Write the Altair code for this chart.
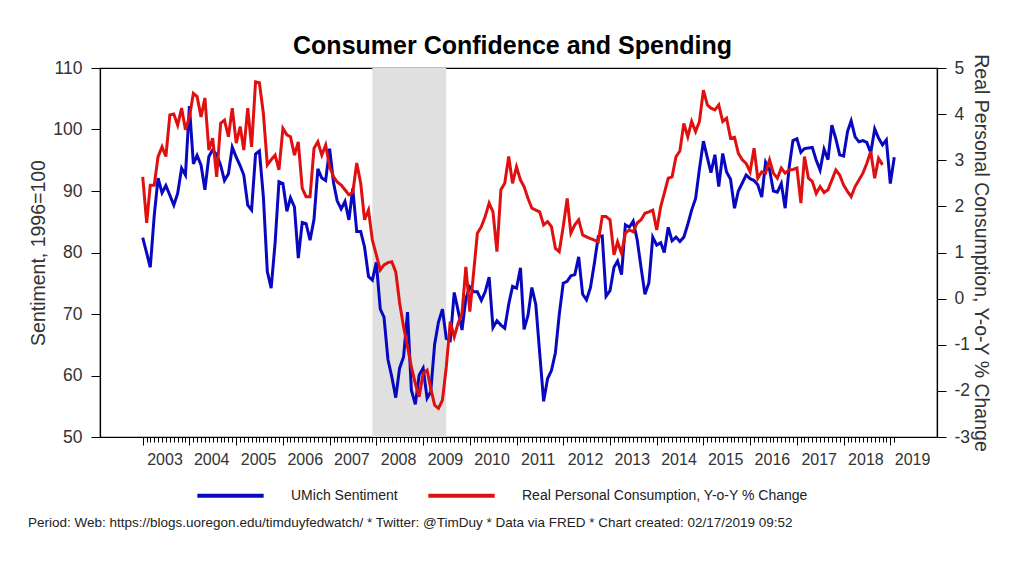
import altair as alt
import pandas as pd

# UMich consumer sentiment, monthly, Jan 2003 - Feb 2019
umich = [
    82.4, 79.9, 77.6, 86.0, 92.1, 89.7, 90.9, 89.3, 87.7, 89.6, 93.7, 92.6,
    103.8, 94.4, 95.8, 94.2, 90.2, 95.6, 96.7, 95.9, 94.2, 91.7, 92.8, 97.1,
    95.5, 94.1, 92.6, 87.7, 86.9, 96.0, 96.5, 89.1, 76.9, 74.2, 81.6, 91.5,
    91.2, 86.7, 88.9, 87.4, 79.1, 84.9, 84.7, 82.0, 85.4, 93.6, 92.1, 91.7,
    96.9, 91.3, 88.4, 87.1, 88.3, 85.3, 90.4, 83.4, 83.4, 80.9, 76.1, 75.5,
    78.4, 70.8, 69.5, 62.6, 59.8, 56.4, 61.2, 63.0, 70.3, 57.6, 55.3, 60.1,
    61.2, 56.3, 57.3, 65.1, 68.7, 70.8, 66.0, 65.7, 73.5, 70.6, 67.4, 72.5,
    74.4, 73.6, 73.6, 72.2, 73.6, 76.0, 67.8, 68.9, 68.2, 67.7, 71.6, 74.5,
    74.2, 77.5, 67.5, 69.8, 74.3, 71.5, 63.7, 55.8, 59.5, 60.8, 63.7, 69.9,
    75.0, 75.3, 76.2, 76.4, 79.3, 73.2, 72.3, 74.3, 78.3, 82.6, 82.7, 72.9,
    73.8, 77.6, 78.6, 76.4, 84.5, 84.1, 85.1, 82.1, 77.5, 73.2, 75.1, 82.5,
    81.2, 81.6, 80.0, 84.1, 81.9, 82.5, 81.8, 82.5, 84.6, 86.9, 88.8, 93.6,
    98.1, 95.4, 93.0, 95.9, 90.7, 96.1, 93.1, 91.9, 87.2, 90.0, 91.3, 92.6,
    92.0, 91.7, 91.0, 89.0, 94.7, 93.5, 90.0, 89.8, 91.2, 87.2, 93.8, 98.2,
    98.5, 96.3, 96.9, 97.0, 97.1, 95.0, 93.4, 96.8, 95.1, 100.7, 98.5, 95.9,
    95.7, 99.7, 101.4, 98.8, 98.0, 98.2, 97.9, 96.2, 100.1, 98.6, 97.5, 98.3,
    91.2, 95.5,
]

# Real personal consumption, year-over-year % change, Jan 2003 - Nov 2018
rpce = [
    2.64, 1.64, 2.46, 2.46, 3.08, 3.29, 3.08, 3.98, 4.00, 3.76, 4.13, 3.66,
    3.94, 4.45, 4.38, 3.94, 4.35, 3.22, 3.48, 2.64, 3.80, 3.87, 3.51, 4.13,
    3.37, 3.73, 3.22, 4.13, 3.29, 4.70, 4.68, 4.02, 2.90, 3.01, 3.11, 2.79,
    3.69, 3.55, 3.51, 3.11, 3.40, 2.39, 2.21, 2.21, 3.26, 3.40, 3.11, 3.33,
    2.86, 2.64, 2.53, 2.46, 2.36, 2.25, 2.30, 2.94, 2.50, 1.71, 1.92, 1.27,
    0.95, 0.62, 0.73, 0.78, 0.80, 0.58, -0.09, -0.61, -1.04, -1.48, -1.84, -2.13,
    -1.62, -1.55, -1.94, -2.31, -2.38, -2.20, -1.48, -0.50, -0.83, -0.54, -0.32, 0.69,
    -0.28, 0.60, 1.42, 1.56, 1.78, 2.07, 1.88, 1.02, 2.36, 2.50, 3.08, 2.50,
    2.86, 2.57, 2.43, 2.17, 1.96, 1.92, 1.88, 1.60, 1.67, 1.56, 1.09, 1.02,
    1.56, 2.17, 1.42, 1.60, 1.71, 1.38, 1.34, 1.30, 1.27, 1.23, 1.78, 1.78,
    1.71, 0.95, 1.23, 0.98, 1.42, 1.49, 1.45, 1.64, 1.71, 1.85, 1.88, 1.92,
    1.49, 1.99, 2.28, 2.61, 2.64, 3.08, 3.20, 3.80, 3.51, 3.84, 3.62, 3.84,
    4.52, 4.20, 4.13, 4.09, 4.20, 3.84, 3.91, 3.48, 3.50, 3.15, 3.01, 2.93,
    2.75, 3.26, 2.61, 2.75, 2.72, 3.01, 2.72, 2.61, 2.83, 2.72, 2.79, 2.80,
    2.83, 2.07, 3.08, 2.61, 2.54, 2.28, 2.43, 2.30, 2.36, 2.57, 2.79, 2.68,
    2.46, 2.32, 2.21, 2.43, 2.57, 2.72, 2.93, 3.19, 2.61, 3.04, 2.90,
]

series_names = ["UMich Sentiment", "Real Personal Consumption, Y-o-Y % Change"]
series_colors = ["#0808c0", "#e01010"]
recession_start = ["2007-12-01"]
recession_end = ["2009-06-30"]
left_ticks = [50, 60, 70, 80, 90, 100, 110]
right_ticks = [-3, -2, -1, 0, 1, 2, 3, 4, 5]
footnote = ("Period: Web: https://blogs.uoregon.edu/timduyfedwatch/ * Twitter: @TimDuy "
            "* Data via FRED * Chart created: 02/17/2019 09:52")

FONT = "Liberation Sans"


def ms(s):
    return int(pd.Timestamp(s).value // 10**6)


blue_df = pd.DataFrame({
    "date": pd.date_range("2003-01-01", periods=len(umich), freq="MS").strftime("%Y-%m-%d"),
    "value": umich,
    "series": series_names[0],
})
red_df = pd.DataFrame({
    "date": pd.date_range("2003-01-01", periods=len(rpce), freq="MS").strftime("%Y-%m-%d"),
    "value": rpce,
    "series": series_names[1],
})
rec_df = pd.DataFrame({"start": recession_start, "end": recession_end})
note_df = pd.DataFrame({"note": [footnote]})

month_ticks = [ms(d) for d in pd.date_range("2003-01-01", "2019-02-01", freq="MS")]

xscale = alt.Scale(type="utc", domain=[ms("2002-02-01"), ms("2020-01-01")])
xaxis = alt.Axis(
    title=None,
    values=month_ticks,
    labelExpr="utcmonth(datum.value) == 0 ? utcFormat(datum.value, '%Y') : ''",
    labelAlign="left",
    labelOffset=4,
    labelOverlap=False,
    labelFlush=False,
    labelPadding=6,
    labelFontSize=16,
    tickSize={"condition": {"test": "utcmonth(datum.value) == 0", "value": 8}, "value": 5},
    tickColor="black",
    domainColor="black",
    grid=False,
)

color = alt.Color(
    "series:N",
    scale=alt.Scale(domain=series_names, range=series_colors),
    legend=alt.Legend(
        title=None,
        orient="none",
        direction="horizontal",
        legendX=95,
        legendY=392,
        symbolType="stroke",
        symbolSize=4400,
        symbolStrokeWidth=4,
        labelFontSize=14,
        labelFont=FONT,
        labelColor="#222",
        labelOffset=25,
        labelLimit=500,
        columnPadding=22,
    ),
)

rect = alt.Chart(rec_df).mark_rect(color="#e0e0e0").encode(
    x=alt.X("start:T", scale=xscale, axis=xaxis),
    x2="end:T",
)

blue = alt.Chart(blue_df).mark_line(strokeWidth=3).encode(
    x=alt.X("date:T", scale=xscale, axis=xaxis),
    y=alt.Y(
        "value:Q",
        scale=alt.Scale(domain=[50, 110], nice=False, zero=False),
        axis=alt.Axis(
            orient="left",
            title="Sentiment, 1996=100",
            values=left_ticks,
            tickSize=9,
            labelPadding=9,
            titlePadding=4,
            grid=False,
        ),
    ),
    color=color,
)

red = alt.Chart(red_df).mark_line(strokeWidth=3).encode(
    x=alt.X("date:T", scale=xscale, axis=xaxis),
    y=alt.Y(
        "value:Q",
        scale=alt.Scale(domain=[-3, 5], nice=False, zero=False),
        axis=alt.Axis(
            orient="right",
            title="Real Personal Consumption, Y-o-Y % Change",
            values=right_ticks,
            labelExpr="datum.value < 0 ? '-' + abs(datum.value) : '' + datum.value",
            tickSize=9,
            labelPadding=8,
            titlePadding=1,
            grid=False,
        ),
    ),
    color=color,
)

note = alt.Chart(note_df).mark_text(
    align="left", baseline="middle", fontSize=13.5, font=FONT, color="#222"
).encode(text="note:N", x=alt.value(-72), y=alt.value(455))

chart = (
    alt.layer(rect, blue, red, note)
    .resolve_scale(y="independent")
    .properties(
        width=837,
        height=369,
        padding={"left": 20, "top": 26, "right": 5, "bottom": 5},
        title=alt.TitleParams(
            "Consumer Confidence and Spending",
            fontSize=25,
            font=FONT,
            fontWeight="bold",
            anchor="middle",
            offset=-6,
            dx=-6,
            color="black",
        ),
    )
    .configure_view(stroke="black", strokeWidth=1.2)
    .configure_axis(
        labelFont=FONT,
        titleFont=FONT,
        labelFontSize=17.5,
        titleFontSize=19.5,
        titleFontWeight="normal",
        labelColor="#333",
        titleColor="#333",
        tickColor="black",
        domainColor="black",
        domainWidth=1.2,
        tickWidth=1,
    )
)

chart.save("out.html", embed_options={"renderer": "svg", "actions": False})
